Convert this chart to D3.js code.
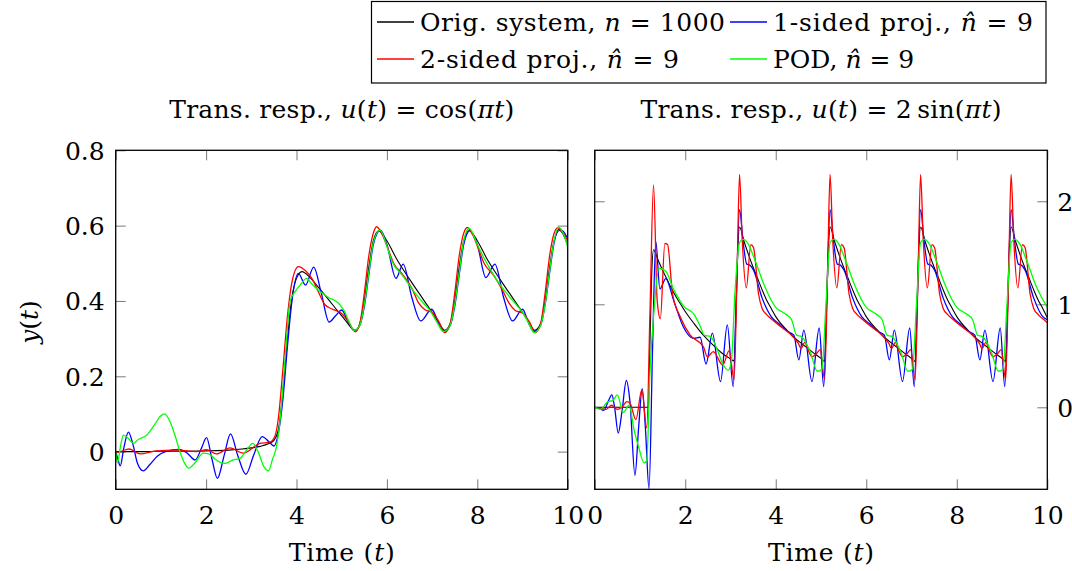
<!DOCTYPE html>
<html>
<head>
<meta charset="utf-8">
<script src="https://cdn.jsdelivr.net/npm/d3@7.9.0/dist/d3.min.js"></script>
<style>
  body { margin: 0; background: #fff; }
  svg text { font-family: "DejaVu Serif", "Liberation Serif", serif; font-size: 25px; fill: #000; }
</style>
</head>
<body>
<svg id="chart" width="1072" height="571"></svg>
<script>
// Tick values
const xTicks = [0, 2, 4, 6, 8, 10];
const leftYTicks = [0, 0.2, 0.4, 0.6, 0.8];
const rightYTicks = [0, 1, 2];

// Left panel, u(t) = cos(pi t): [time, y]
const leftOrig = [
  [0, 0], [0.5, 0], [1, 0.001], [1.5, 0.001], [2, 0.002], [2.5, 0.004], [2.8, 0.007], [3, 0.01],
  [3.2, 0.014], [3.4, 0.022], [3.5, 0.03], [3.6, 0.06], [3.7, 0.16], [3.8, 0.3], [3.9, 0.41], [4, 0.46],
  [4.12, 0.478], [4.3, 0.462], [4.5, 0.434], [4.7, 0.405], [4.9, 0.375], [5.1, 0.346], [5.22, 0.328],
  [5.3, 0.322], [5.4, 0.34], [5.5, 0.4], [5.6, 0.49], [5.7, 0.56], [5.82, 0.586], [6, 0.56], [6.2, 0.515],
  [6.5, 0.458], [6.8, 0.405], [7, 0.37], [7.15, 0.342], [7.28, 0.322], [7.4, 0.34], [7.5, 0.4], [7.6, 0.49],
  [7.7, 0.56], [7.82, 0.587], [8, 0.56], [8.2, 0.515], [8.5, 0.458], [8.8, 0.405], [9, 0.37], [9.15, 0.342],
  [9.27, 0.322], [9.4, 0.34], [9.5, 0.4], [9.6, 0.49], [9.7, 0.56], [9.82, 0.587], [10, 0.548]
];
const leftOneSided = [
  [0, 0], [0.05, -0.02], [0.1, -0.038], [0.18, 0.01], [0.28, 0.052], [0.38, 0.02], [0.48, -0.03],
  [0.61, -0.051], [0.75, -0.035], [0.92, -0.012], [1.1, 0], [1.4, 0.006], [1.58, -0.004], [1.76, -0.022],
  [1.9, 0.01], [2.01, 0.037], [2.13, -0.02], [2.25, -0.071], [2.4, -0.01], [2.54, 0.047], [2.7, -0.01],
  [2.88, -0.06], [3.05, -0.01], [3.24, 0.04], [3.4, 0.025], [3.5, 0.015], [3.6, 0.05], [3.7, 0.14],
  [3.8, 0.28], [3.9, 0.4], [4.04, 0.473], [4.2, 0.442], [4.38, 0.49], [4.55, 0.42], [4.72, 0.344],
  [4.86, 0.36], [5, 0.376], [5.14, 0.345], [5.28, 0.321], [5.4, 0.335], [5.5, 0.385], [5.6, 0.47],
  [5.7, 0.55], [5.86, 0.588], [6, 0.55], [6.2, 0.46], [6.36, 0.498], [6.55, 0.41], [6.75, 0.347],
  [6.99, 0.378], [7.15, 0.34], [7.27, 0.319], [7.4, 0.335], [7.5, 0.385], [7.6, 0.47], [7.7, 0.55],
  [7.84, 0.587], [8, 0.55], [8.19, 0.462], [8.39, 0.498], [8.58, 0.41], [8.78, 0.347], [9, 0.378],
  [9.14, 0.34], [9.26, 0.319], [9.4, 0.335], [9.5, 0.39], [9.6, 0.475], [9.7, 0.555], [9.8, 0.59],
  [9.9, 0.585], [10, 0.565]
];
const leftTwoSided = [
  [0, -0.003], [0.1, 0], [0.3, 0.007], [0.54, -0.006], [0.9, 0.002], [1.35, 0.004], [1.79, 0],
  [2.01, 0.005], [2.23, -0.006], [2.53, 0.01], [2.82, -0.004], [3.19, 0.022], [3.41, 0.025], [3.52, 0.04],
  [3.6, 0.09], [3.7, 0.22], [3.8, 0.36], [3.9, 0.45], [4.04, 0.491], [4.2, 0.48], [4.35, 0.458],
  [4.48, 0.425], [4.63, 0.39], [4.8, 0.378], [5, 0.367], [5.15, 0.345], [5.3, 0.318], [5.4, 0.34],
  [5.5, 0.42], [5.6, 0.52], [5.7, 0.58], [5.77, 0.597], [5.9, 0.575], [6.02, 0.54], [6.15, 0.5],
  [6.35, 0.47], [6.55, 0.434], [6.7, 0.395], [6.85, 0.376], [7, 0.37], [7.15, 0.345], [7.28, 0.316],
  [7.4, 0.34], [7.5, 0.42], [7.6, 0.52], [7.7, 0.58], [7.78, 0.595], [7.9, 0.575], [8.02, 0.54],
  [8.15, 0.5], [8.35, 0.47], [8.55, 0.43], [8.7, 0.395], [8.85, 0.374], [9, 0.368], [9.15, 0.345],
  [9.28, 0.316], [9.4, 0.34], [9.5, 0.42], [9.6, 0.52], [9.7, 0.58], [9.78, 0.594], [9.9, 0.58], [10, 0.56]
];
const leftPOD = [
  [0, 0], [0.04, -0.03], [0.1, 0.01], [0.17, 0.044], [0.28, 0.035], [0.39, 0.022], [0.5, 0.032],
  [0.69, 0.044], [0.85, 0.07], [1, 0.095], [1.08, 0.1], [1.2, 0.08], [1.32, 0.04], [1.42, 0],
  [1.52, -0.03], [1.62, -0.044], [1.75, -0.03], [1.94, -0.004], [2.06, -0.006], [2.18, -0.018],
  [2.3, -0.028], [2.42, -0.031], [2.6, -0.022], [2.75, -0.018], [2.9, 0.005], [3.03, 0.022], [3.15, 0],
  [3.28, -0.04], [3.38, -0.051], [3.47, -0.02], [3.56, 0.015], [3.65, 0.1], [3.75, 0.25], [3.86, 0.4],
  [3.97, 0.425], [4.1, 0.445], [4.22, 0.46], [4.34, 0.445], [4.48, 0.429], [4.7, 0.41], [4.93, 0.394],
  [5.05, 0.375], [5.18, 0.34], [5.27, 0.322], [5.4, 0.335], [5.5, 0.39], [5.6, 0.475], [5.7, 0.555],
  [5.85, 0.588], [6, 0.545], [6.1, 0.509], [6.36, 0.465], [6.6, 0.425], [6.81, 0.394], [6.95, 0.375],
  [7.1, 0.345], [7.25, 0.319], [7.4, 0.335], [7.5, 0.39], [7.6, 0.475], [7.7, 0.56], [7.82, 0.593],
  [8, 0.55], [8.13, 0.518], [8.43, 0.456], [8.65, 0.42], [8.87, 0.389], [9, 0.37], [9.12, 0.345],
  [9.26, 0.316], [9.4, 0.335], [9.5, 0.39], [9.6, 0.48], [9.7, 0.56], [9.8, 0.596], [9.9, 0.58], [10, 0.544]
];

// Right panel, u(t) = 2 sin(pi t): [time, y]
const rightOrig = [
  [0, 0], [1.19, 0], [1.22, 0.6], [1.26, 1.3], [1.3, 1.53], [1.4, 1.43], [1.5, 1.33], [1.6, 1.24],
  [1.7, 1.15], [1.8, 1.07], [1.9, 1.0], [2, 0.93], [2.2, 0.81], [2.4, 0.7], [2.6, 0.61], [2.8, 0.53],
  [3, 0.47], [3.08, 0.45], [3.12, 0.9], [3.16, 1.5], [3.2, 1.75], [3.3, 1.61], [3.4, 1.48], [3.5, 1.36],
  [3.6, 1.25], [3.7, 1.14], [3.8, 1.04], [3.9, 0.96], [4, 0.88], [4.1, 0.82], [4.2, 0.77], [4.4, 0.68],
  [4.6, 0.61], [4.8, 0.54], [5, 0.475], [5.08, 0.445], [5.12, 0.9], [5.16, 1.5], [5.2, 1.75], [5.3, 1.61],
  [5.4, 1.48], [5.5, 1.36], [5.6, 1.25], [5.7, 1.14], [5.8, 1.04], [5.9, 0.96], [6, 0.88], [6.1, 0.82],
  [6.2, 0.77], [6.4, 0.68], [6.6, 0.61], [6.8, 0.54], [7, 0.475], [7.08, 0.445], [7.12, 0.9], [7.16, 1.5],
  [7.2, 1.75], [7.3, 1.61], [7.4, 1.48], [7.5, 1.36], [7.6, 1.25], [7.7, 1.14], [7.8, 1.04], [7.9, 0.96],
  [8, 0.88], [8.1, 0.82], [8.2, 0.77], [8.4, 0.68], [8.6, 0.61], [8.8, 0.54], [9, 0.475], [9.08, 0.445],
  [9.12, 0.9], [9.16, 1.5], [9.2, 1.75], [9.3, 1.61], [9.4, 1.48], [9.5, 1.36], [9.6, 1.25], [9.7, 1.14],
  [9.8, 1.04], [9.9, 0.96], [10, 0.87]
];
const rightOneSided = [
  [0, 0], [0.1, -0.01], [0.2, -0.03], [0.3, 0.06], [0.38, 0.12], [0.44, 0], [0.52, -0.25], [0.6, -0.05],
  [0.7, 0.26], [0.78, 0.05], [0.89, -0.66], [0.97, -0.2], [1.05, 0.18], [1.12, -0.2], [1.2, -0.79],
  [1.28, 0.6], [1.35, 1.61], [1.44, 1.15], [1.57, 1.25], [1.75, 1.03], [1.96, 0.78], [2.18, 0.67],
  [2.33, 0.68], [2.46, 0.42], [2.6, 0.72], [2.78, 0.25], [2.93, 0.8], [3.06, 0.2], [3.13, 1.1],
  [3.2, 1.92], [3.28, 1.6], [3.36, 1.39], [3.43, 1.38], [3.51, 1.33], [3.7, 1.06], [3.9, 0.88], [4.1, 0.8],
  [4.25, 0.74], [4.4, 0.7], [4.51, 0.46], [4.62, 0.75], [4.8, 0.25], [4.96, 0.77], [5.06, 0.2], [5.13, 1.1],
  [5.2, 1.92], [5.28, 1.6], [5.36, 1.39], [5.43, 1.38], [5.51, 1.33], [5.7, 1.06], [5.9, 0.88], [6.1, 0.8],
  [6.25, 0.74], [6.4, 0.7], [6.51, 0.46], [6.62, 0.75], [6.8, 0.25], [6.96, 0.77], [7.06, 0.2], [7.13, 1.1],
  [7.2, 1.92], [7.28, 1.6], [7.36, 1.39], [7.43, 1.38], [7.51, 1.33], [7.7, 1.06], [7.9, 0.88], [8.1, 0.8],
  [8.25, 0.74], [8.4, 0.7], [8.51, 0.46], [8.62, 0.75], [8.8, 0.25], [8.96, 0.77], [9.06, 0.2], [9.13, 1.1],
  [9.2, 1.92], [9.28, 1.6], [9.36, 1.39], [9.43, 1.38], [9.51, 1.33], [9.7, 1.06], [9.9, 0.88], [10, 0.85]
];
const rightTwoSided = [
  [0, 0], [0.15, -0.01], [0.25, -0.02], [0.37, 0.02], [0.5, -0.02], [0.6, 0], [0.71, 0.055], [0.78, 0.04],
  [0.91, -0.12], [1.04, 0.17], [1.15, -0.2], [1.22, 0.9], [1.3, 2.16], [1.38, 1.04], [1.45, 0.86],
  [1.55, 1.59], [1.61, 1.58], [1.72, 1.1], [1.89, 0.88], [2.11, 0.7], [2.4, 0.59], [2.49, 0.49],
  [2.62, 0.54], [2.83, 0.41], [2.97, 0.55], [3.08, 0.27], [3.15, 1.4],
  [3.2, 2.26], [3.26, 1.62], [3.35, 1.16], [3.45, 1.58], [3.51, 1.55], [3.62, 1.1], [3.7, 0.96], [3.8, 0.9],
  [3.95, 0.84], [4.15, 0.77], [4.35, 0.7], [4.5, 0.62], [4.56, 0.57], [4.64, 0.63], [4.72, 0.55], [4.8, 0.49],
  [4.9, 0.52], [4.98, 0.56], [5.08, 0.27], [5.15, 1.4],
  [5.2, 2.26], [5.26, 1.62], [5.35, 1.16], [5.45, 1.58], [5.51, 1.55], [5.62, 1.1], [5.7, 0.96], [5.8, 0.9],
  [5.95, 0.84], [6.15, 0.77], [6.35, 0.7], [6.5, 0.62], [6.56, 0.57], [6.64, 0.63], [6.72, 0.55], [6.8, 0.49],
  [6.9, 0.52], [6.98, 0.56], [7.08, 0.27], [7.15, 1.4],
  [7.2, 2.26], [7.26, 1.62], [7.35, 1.16], [7.45, 1.58], [7.51, 1.55], [7.62, 1.1], [7.7, 0.96], [7.8, 0.9],
  [7.95, 0.84], [8.15, 0.77], [8.35, 0.7], [8.5, 0.62], [8.56, 0.57], [8.64, 0.63], [8.72, 0.55], [8.8, 0.49],
  [8.9, 0.52], [8.98, 0.56], [9.08, 0.27], [9.15, 1.4],
  [9.2, 2.26], [9.26, 1.62], [9.35, 1.16], [9.45, 1.58], [9.51, 1.55], [9.62, 1.1], [9.7, 0.96], [9.8, 0.9],
  [9.95, 0.84], [10, 0.82]
];
const rightPOD = [
  [0, 0], [0.12, -0.02], [0.28, 0.05], [0.41, 0.07], [0.5, 0.12], [0.63, -0.05], [0.76, 0.02],
  [0.87, -0.22], [0.98, -0.4], [1.09, -0.54], [1.15, -0.52], [1.22, 0.33], [1.31, 0.94], [1.42, 1.35],
  [1.57, 1.32], [1.75, 1.14], [1.97, 0.98], [2.2, 0.9], [2.34, 0.78], [2.42, 0.7], [2.56, 0.686],
  [2.71, 0.556], [2.82, 0.43], [2.95, 0.36], [3.02, 0.45], [3.1, 1.12],
  [3.2, 1.6], [3.28, 1.63], [3.4, 1.58], [3.54, 1.43], [3.76, 1.17], [4, 0.97], [4.2, 0.91], [4.35, 0.85],
  [4.46, 0.7], [4.57, 0.686], [4.76, 0.54], [4.92, 0.35], [5.02, 0.37], [5.11, 1.0],
  [5.2, 1.6], [5.28, 1.63], [5.4, 1.58], [5.54, 1.43], [5.76, 1.17], [6, 0.97], [6.2, 0.91], [6.35, 0.85],
  [6.46, 0.7], [6.57, 0.686], [6.76, 0.54], [6.92, 0.35], [7.02, 0.37], [7.11, 1.0],
  [7.2, 1.6], [7.28, 1.63], [7.4, 1.58], [7.54, 1.43], [7.76, 1.17], [8, 0.97], [8.2, 0.91], [8.35, 0.85],
  [8.46, 0.7], [8.57, 0.686], [8.76, 0.54], [8.92, 0.35], [9.02, 0.37], [9.11, 1.0],
  [9.2, 1.6], [9.28, 1.63], [9.4, 1.58], [9.54, 1.43], [9.76, 1.17], [10, 0.97]
];

const seriesColors = ['#000000', '#0000ff', '#ff0000', '#00ff00'];

// text pieces: [string, italic?]
const legendEntries = [
  { parts: [['Orig. system, '], ['n', true], [' = 1000']], color: '#000000', col: 0, row: 0, len: 305 },
  { parts: [['1-sided proj., '], ['n\u0302', true], [' = 9']], color: '#0000ff', col: 1, row: 0, len: 260 },
  { parts: [['2-sided proj., '], ['n\u0302', true], [' = 9']], color: '#ff0000', col: 0, row: 1, len: 259 },
  { parts: [['POD, '], ['n\u0302', true], [' = 9']], color: '#00ff00', col: 1, row: 1, len: null },
];

const panels = [
  {
    left: 115.7, right: 567.7, yDomain: [-0.1, 0.8], yTicks: leftYTicks, labelSide: 'left',
    series: [leftOrig, leftOneSided, leftTwoSided, leftPOD],
    title: [['Trans. resp., '], ['u', true], ['('], ['t', true], [') = cos('], ['\u03c0', true], ['t', true], [')']],
    titleLen: 345,
  },
  {
    left: 594.7, right: 1047.3, yDomain: [-0.796, 2.495], yTicks: rightYTicks, labelSide: 'right',
    series: [rightOrig, rightOneSided, rightTwoSided, rightPOD],
    title: [['Trans. resp., '], ['u', true], ['('], ['t', true], [') = 2\u2009sin('], ['\u03c0', true], ['t', true], [')']],
    titleLen: 361,
  },
];

const TOP = 150.3;
const BOTTOM = 489.3;
const TICK = 10;

const svg = d3.select('#chart');

function richText(parent, x, y, parts, anchor, len) {
  const text = parent.append('text')
    .attr('x', x)
    .attr('y', y)
    .attr('text-anchor', anchor);
  parts.forEach(([s, it]) => {
    text.append('tspan').text(s).attr('font-style', it ? 'italic' : null);
  });
  if (len) text.attr('textLength', len).attr('lengthAdjust', 'spacing');
  return text;
}

function styleAxis(g) {
  g.select('.domain').remove();
  g.attr('font-size', null).attr('font-family', null);
  g.selectAll('.tick line').attr('stroke', '#7a7a7a').attr('stroke-width', 1);
}

panels.forEach((p, i) => {
  const x = d3.scaleLinear().domain([0, 10]).range([p.left, p.right]);
  const y = d3.scaleLinear().domain(p.yDomain).range([BOTTOM, TOP]);
  const g = svg.append('g');

  const clipId = `clip-${i}`;
  svg.append('clipPath').attr('id', clipId)
    .append('rect')
    .attr('x', p.left).attr('y', TOP)
    .attr('width', p.right - p.left).attr('height', BOTTOM - TOP);

  // ticks on all four sides, pointing inward
  g.append('g').attr('class', 'x-axis').attr('transform', `translate(0,${BOTTOM})`)
    .call(d3.axisBottom(x).tickValues(xTicks).tickSize(-TICK).tickPadding(15).tickFormat(d3.format('d')))
    .call(styleAxis);
  g.append('g').attr('transform', `translate(0,${TOP})`)
    .call(d3.axisTop(x).tickValues(xTicks).tickSize(-TICK).tickFormat(''))
    .call(styleAxis);

  const labelled = p.labelSide === 'left'
    ? d3.axisLeft(y).tickPadding(11)
    : d3.axisRight(y).tickPadding(10);
  g.append('g').attr('class', 'y-axis').attr('transform', `translate(${p.labelSide === 'left' ? p.left : p.right},0)`)
    .call(labelled.tickValues(p.yTicks).tickSize(-TICK).tickFormat((d) => String(d)))
    .call(styleAxis);
  const plain = p.labelSide === 'left' ? d3.axisRight(y) : d3.axisLeft(y);
  g.append('g').attr('transform', `translate(${p.labelSide === 'left' ? p.right : p.left},0)`)
    .call(plain.tickValues(p.yTicks).tickSize(-TICK).tickFormat(''))
    .call(styleAxis);
  g.selectAll('.x-axis .tick text').attr('dy', '0.78em');
  g.selectAll('.y-axis .tick text').attr('dy', '0.36em');

  const line = d3.line()
    .x((d) => x(d[0]))
    .y((d) => y(d[1]))
    .curve(d3.curveMonotoneX);

  const lines = g.append('g').attr('clip-path', `url(#${clipId})`);
  p.series.forEach((data, k) => {
    lines.append('path')
      .datum(data)
      .attr('fill', 'none')
      .attr('stroke', seriesColors[k])
      .attr('stroke-width', k === 0 ? 1.1 : 1.3)
      .attr('stroke-linejoin', 'round')
      .attr('d', line);
  });

  g.append('rect')
    .attr('x', p.left).attr('y', TOP)
    .attr('width', p.right - p.left).attr('height', BOTTOM - TOP)
    .attr('fill', 'none').attr('stroke', '#000').attr('stroke-width', 1.3);

  const cx = (p.left + p.right) / 2;
  richText(svg, cx, 118, p.title, 'middle', p.titleLen);
  richText(svg, cx, 561, [['Time ('], ['t', true], [')']], 'middle', 106);
});

// y label on the left panel
const yLab = svg.append('g').attr('transform', 'translate(38,322) rotate(-90)');
richText(yLab, 0, 0, [['y', true], ['('], ['t', true], [')']], 'middle');

// legend
const legend = svg.append('g');
legend.append('rect')
  .attr('x', 371.5).attr('y', 1.5).attr('width', 674.5).attr('height', 81.5)
  .attr('fill', '#fff').attr('stroke', '#000').attr('stroke-width', 1.2);
const colX = [377, 730];
const rowY = [22, 59];
legendEntries.forEach((e) => {
  const lx = colX[e.col];
  const ly = rowY[e.row];
  legend.append('line')
    .attr('x1', lx).attr('x2', lx + 37).attr('y1', ly).attr('y2', ly)
    .attr('stroke', e.color).attr('stroke-width', 1.3);
  richText(legend, lx + 43, ly + 9, e.parts, 'start', e.len);
});
</script>
</body>
</html>
